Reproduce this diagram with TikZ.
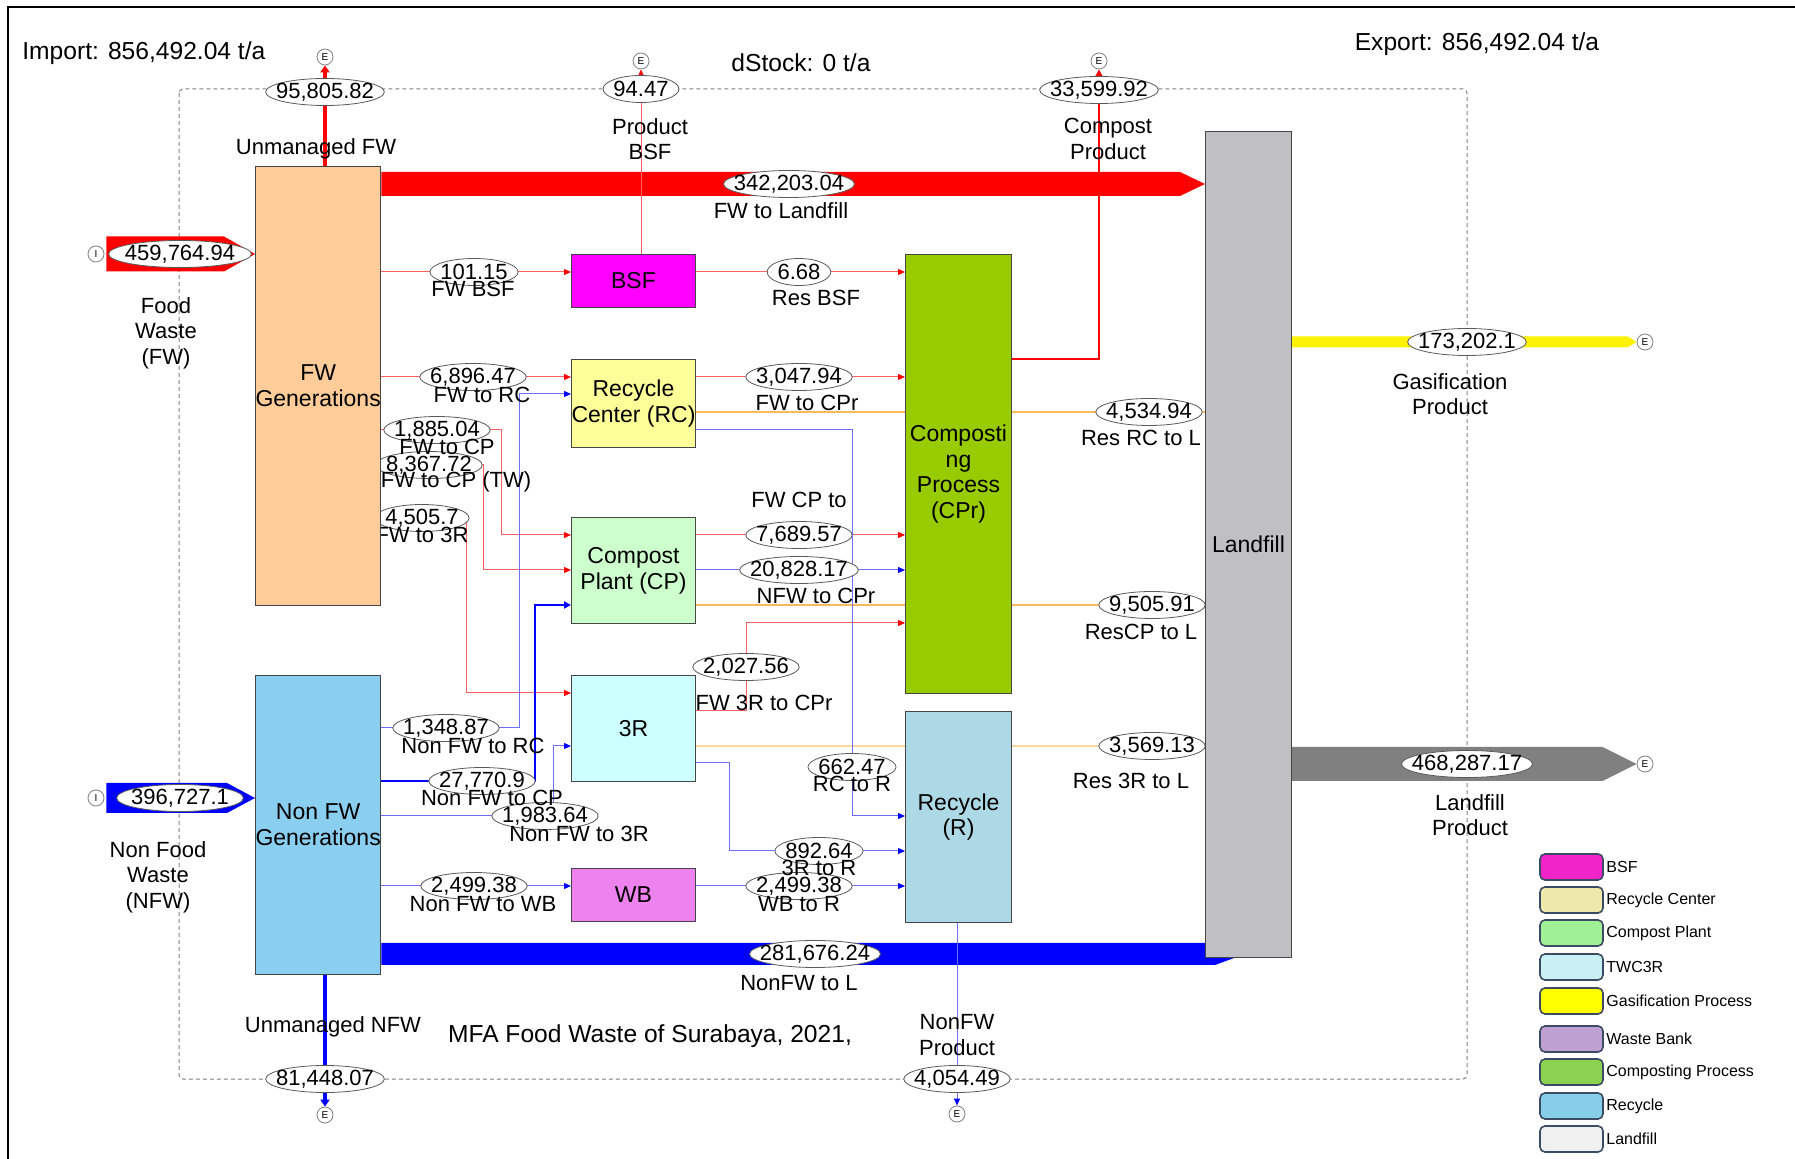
\documentclass[tikz,border=0pt]{standalone}
\usepackage{fontspec}
\setmainfont{Liberation Sans}
\usetikzlibrary{arrows.meta,calc,shapes.geometric}
\pgfdeclarelayer{bg}
\pgfdeclarelayer{flows}
\pgfdeclarelayer{ell}
\pgfdeclarelayer{txt}
\pgfsetlayers{bg,flows,ell,txt,main}

\definecolor{cFW}{RGB}{253,204,153}
\definecolor{cNFW}{RGB}{138,206,240}
\definecolor{cBSF}{RGB}{255,0,255}
\definecolor{cRC}{RGB}{255,255,153}
\definecolor{cCP}{RGB}{204,255,204}
\definecolor{cTR}{RGB}{204,255,255}
\definecolor{cWB}{RGB}{238,130,238}
\definecolor{cCPr}{RGB}{153,204,0}
\definecolor{cR}{RGB}{173,216,230}
\definecolor{cLF}{RGB}{192,192,196}
\definecolor{cLP}{RGB}{128,128,128}
\definecolor{cLR}{RGB}{255,95,95}
\definecolor{cLB}{RGB}{110,110,255}
\definecolor{cOr}{RGB}{250,185,90}
\definecolor{cOr2}{RGB}{250,215,160}
\definecolor{cLegB}{RGB}{60,75,100}
\definecolor{lgBSF}{RGB}{240,36,200}
\definecolor{lgRC}{RGB}{238,232,170}
\definecolor{lgCP}{RGB}{160,240,150}
\definecolor{lgTR}{RGB}{200,240,245}
\definecolor{lgGas}{RGB}{255,255,0}
\definecolor{lgWB}{RGB}{190,160,210}
\definecolor{lgCPr}{RGB}{140,210,80}
\definecolor{lgR}{RGB}{135,206,235}
\definecolor{lgL}{RGB}{240,240,240}

\newcommand\lblfont{\fontsize{11}{12.8}\selectfont}
\newcommand\boxfont{\fontsize{11.5}{12.9}\selectfont}
\newcommand\bigfont{\fontsize{12.3}{14}\selectfont}
\newcommand\legfont{\fontsize{8}{9}\selectfont}
\newcommand\tinyfont{\fontsize{5}{5}\selectfont}

% value node: text on layer txt, white ellipse on layer ell
\newcommand\valm[5]{%
  \begin{pgfonlayer}{txt}\node[vt] (#1) at (#2,#3) {#4};\end{pgfonlayer}%
  \begin{pgfonlayer}{ell}\draw[vell] let \p1=($(#1.east)-(#1.west)$) in (#1.center) ellipse [x radius={0.5*\x1+#5}, y radius=6.75pt];\end{pgfonlayer}}
\newcommand\val[4]{\valm{#1}{#2}{#3}{#4}{5pt}}

\newcommand\pbox[7]{%
  \node[pbx, fill=#6, anchor=north west, minimum width={(#4-#2)*0.5pt}, minimum height={(#5-#3)*0.5pt}] (#1) at (#2,#3) {#7};}

\begin{document}
\begin{tikzpicture}[x=0.5pt,y=-0.5pt,
  pbx/.style={draw=gray!55!black, line width=0.5pt, align=center, font=\boxfont, inner sep=0pt},
  vt/.style={font=\lblfont, inner sep=0pt},
  vell/.style={draw={rgb,255:red,90;green,90;blue,90}, line width=0.4pt, fill=white},
  lbl/.style={font=\lblfont, align=center, inner sep=0pt},
  big/.style={font=\bigfont, inner sep=0pt},
  ec/.style={circle, draw=gray, fill=white, minimum size=8pt, inner sep=0pt, line width=0.4pt, font=\tinyfont},
  tR/.style={draw=cLR, line width=0.5pt, -{Triangle[length=3.5pt,width=3pt,color=red]}},
  tB/.style={draw=cLB, line width=0.5pt, -{Triangle[length=3.5pt,width=3pt,color=blue]}},
  tO/.style={draw=cOr, line width=0.6pt},
  tOO/.style={draw=cOr2, line width=0.7pt},
  mR/.style={draw=red, line width=1pt},
  mB/.style={draw=blue, line width=1pt, -{Triangle[length=3.5pt,width=3.5pt]}},
  kR/.style={draw=red, line width=2pt, -{Triangle[length=3.5pt,width=4.5pt]}},
  kB/.style={draw=blue, line width=2pt, -{Triangle[length=3.5pt,width=4.5pt]}},
  legbox/.style={draw=cLegB, line width=0.8pt, rounded corners=2.5pt, minimum width=31.5pt, minimum height=13pt, inner sep=0pt},
  legt/.style={font=\legfont, anchor=west, inner sep=0pt}]
\useasboundingbox (0,0) rectangle (1795,1159);

% frame and system boundary
\begin{pgfonlayer}{bg}
\draw[line width=1pt] (8,1159) -- (8,7) -- (1795,7);
\draw[gray, line width=0.5pt, dash pattern=on 2pt off 1.5pt, rounded corners=2pt] (179,89) rectangle (1467,1079);
\end{pgfonlayer}

% processes
\pbox{FW}{255}{166}{378}{605}{cFW}{FW\\Generations}
\pbox{NFW}{255}{675}{378}{974}{cNFW}{Non FW\\Generations}
\pbox{BSF}{571}{254}{695}{307}{cBSF}{BSF}
\pbox{RC}{571}{359}{695}{447}{cRC}{Recycle\\Center (RC)}
\pbox{CP}{571}{517}{695}{623}{cCP}{Compost\\Plant (CP)}
\pbox{TR}{571}{675}{695}{781}{cTR}{3R}
\pbox{WB}{571}{868}{695}{921}{cWB}{WB}
\pbox{CPr}{905}{254}{1011}{693}{cCPr}{Composti\\ng\\Process\\(CPr)}
\pbox{R}{905}{711}{1011}{922}{cR}{Recycle\\(R)}
\pbox{LF}{1205}{131}{1291}{957}{cLF}{Landfill}

% import / export markers
\node[ec] (eUFW) at (325,57) {E};
\node[ec] (ePBSF) at (641,61) {E};
\node[ec] (eCP) at (1099,61) {E};
\node[ec] (eGas) at (1645,342) {E};
\node[ec] (eLP) at (1645,764) {E};
\node[ec] (eUNFW) at (325,1115) {E};
\node[ec] (eNFWP) at (957,1114) {E};
\node[ec] (iFW) at (96,254) {I};
\node[ec] (iNFW) at (96,798) {I};

% flow values
\val{vUFW}{325}{92}{95,805.82}
\val{vPBSF}{641}{89}{94.47}
\val{vCPo}{1099}{90}{33,599.92}
\val{vFWL}{789}{184}{342,203.04}
\valm{vImpFW}{180}{254}{459,764.94}{8pt}
\val{vFWBSF}{474}{272}{101.15}
\val{vResBSF}{799}{272}{6.68}
\val{vFWRC}{473}{377}{6,896.47}
\val{vFWCPr}{799}{377}{3,047.94}
\val{vResRC}{1149}{412}{4,534.94}
\val{vFWCP}{437}{430}{1,885.04}
\val{vFWCPTW}{429}{465}{8,367.72}
\val{vFW3R}{422}{518}{4,505.7}
\val{vCPCPr}{799}{535}{7,689.57}
\val{vNFWCPr}{799}{570}{20,828.17}
\val{vResCP}{1152}{605}{9,505.91}
\val{vF3RCPr}{746}{667}{2,027.56}
\val{vNFWRC}{446}{728}{1,348.87}
\val{vResR}{1152}{746}{3,569.13}
\val{vRCR}{852}{767}{662.47}
\val{vNFWCP}{482}{781}{27,770.9}
\valm{vImpNFW}{180}{798}{396,727.1}{7pt}
\val{vNFW3R}{545}{816}{1,983.64}
\val{v3RR}{819}{851}{892.64}
\val{vNFWWB}{474}{886}{2,499.38}
\val{vWBR}{799}{886}{2,499.38}
\val{vNFWL}{815}{954}{281,676.24}
\val{vUNFW}{325}{1079}{81,448.07}
\val{vNFWP}{957}{1079}{4,054.49}
\val{vGas}{1467}{342}{173,202.1}
\val{vLP}{1467}{764}{468,287.17}

% bend points
\coordinate (kCP) at (1099,359);
\coordinate (k1) at (501,535);
\coordinate (k2) at (483,570);
\coordinate (k3) at (466,693);
\coordinate (k4) at (519,394);
\coordinate (k5) at (535,605);
\coordinate (k6) at (553,746);
\coordinate (k7a) at (852,430);
\coordinate (k7b) at (852,816);
\coordinate (k8a) at (746,711);
\coordinate (k8b) at (746,623);
\coordinate (k9a) at (729,763);
\coordinate (k9b) at (729,851);

\begin{pgfonlayer}{flows}
% wide flows
\fill[red] ($(FW.east|-vFWL)+(0,-12)$) -- ($(LF.west|-vFWL)+(-25,-12)$) -- (LF.west|-vFWL) -- ($(LF.west|-vFWL)+(-25,12)$) -- ($(FW.east|-vFWL)+(0,12)$) -- cycle;
\fill[blue] ($(NFW.east|-vNFWL)+(0,-11)$) -- ($(LF.west|-vNFWL)+(10,-11)$) -- ($(LF.west|-vNFWL)+(40,0)$) -- ($(LF.west|-vNFWL)+(10,11)$) -- ($(NFW.east|-vNFWL)+(0,11)$) -- cycle;
\fill[yellow] ($(LF.east|-eGas)+(0,-5.5)$) -- ($(eGas.west)+(-9,-5.5)$) -- (eGas.west) -- ($(eGas.west)+(-9,5.5)$) -- ($(LF.east|-eGas)+(0,5.5)$) -- cycle;
\fill[cLP] ($(LF.east|-eLP)+(0,-17)$) -- ($(eLP.west)+(-34,-17)$) -- (eLP.west) -- ($(eLP.west)+(-34,17)$) -- ($(LF.east|-eLP)+(0,17)$) -- cycle;
\fill[red] ($(iFW.east)+(2,-17.5)$) -- ($(FW.west|-iFW)+(-31,-17.5)$) -- (FW.west|-iFW) -- ($(FW.west|-iFW)+(-31,17.5)$) -- ($(iFW.east)+(2,17.5)$) -- cycle;
\fill[blue] ($(iNFW.east)+(2,-15)$) -- ($(NFW.west|-iNFW)+(-28,-15)$) -- (NFW.west|-iNFW) -- ($(NFW.west|-iNFW)+(-28,15)$) -- ($(iNFW.east)+(2,15)$) -- cycle;
% vertical outflows
\draw[kR] (eUFW|-FW.north) -- (eUFW.south);
\draw[kB] (eUNFW|-NFW.south) -- (eUNFW.north);
\draw[tR] (ePBSF|-BSF.north) -- (ePBSF.south);
\draw[tB] (eNFWP|-R.south) -- (eNFWP.north);
\draw[mR, -{Triangle[length=3.5pt,width=3.5pt]}] (CPr.east|-kCP) -- (kCP) -- (eCP.south);
% straight flows
\draw[tR] (FW.east|-vFWBSF) -- (BSF.west|-vFWBSF);
\draw[tR] (BSF.east|-vResBSF) -- (CPr.west|-vResBSF);
\draw[tR] (FW.east|-vFWRC) -- (RC.west|-vFWRC);
\draw[tR] (RC.east|-vFWCPr) -- (CPr.west|-vFWCPr);
\draw[tO] (RC.east|-vResRC) -- (LF.west|-vResRC);
\draw[tR] (CP.east|-vCPCPr) -- (CPr.west|-vCPCPr);
\draw[tB] (CP.east|-vNFWCPr) -- (CPr.west|-vNFWCPr);
\draw[tO] (CP.east|-vResCP) -- (LF.west|-vResCP);
\draw[tOO] (TR.east|-vResR) -- (LF.west|-vResR);
\draw[tB] (NFW.east|-vNFWWB) -- (WB.west|-vNFWWB);
\draw[tB] (WB.east|-vWBR) -- (R.west|-vWBR);
% bent flows
\draw[tR] (FW.east|-vFWCP) -| (k1) -- (CP.west|-k1);
\draw[tR] (FW.east|-vFWCPTW) -| (k2) -- (CP.west|-k2);
\draw[tR] (FW.east|-vFW3R) -| (k3) -- (TR.west|-k3);
\draw[tB] (NFW.east|-vNFWRC) -| (k4) -- (RC.west|-k4);
\draw[mB] (NFW.east|-vNFWCP) -| (k5) -- (CP.west|-k5);
\draw[tB] (NFW.east|-vNFW3R) -| (k6) -- (TR.west|-k6);
\draw[tB] (RC.east|-k7a) -- (k7a) -- (k7b) -- (R.west|-k7b);
\draw[tR] (TR.east|-k8a) -- (k8a) -- (k8b) -- (CPr.west|-k8b);
\draw[tB] (TR.east|-k9a) -- (k9a) -- (k9b) -- (R.west|-k9b);
\end{pgfonlayer}

\begin{pgfonlayer}{txt}
% flow names
\node[lbl] (lUFW) at (316,149) {Unmanaged FW};
\node[lbl] (lPBSF) at (650,139) {Product\\BSF};
\node[lbl] (lCPo) at (1108,139) {Compost\\Product};
\node[lbl] (lFWL) at (781,211) {FW to Landfill};
\node[lbl] (lFood) at (166,333) {Food\\Waste\\(FW)};
\node[lbl] (lFWBSF) at (473,289) {FW BSF};
\node[lbl] (lResBSF) at (816,298) {Res BSF};
\node[lbl] (lFWRC) at (482,395) {FW to RC};
\node[lbl] (lFWCPr) at (807,403) {FW to CPr};
\node[lbl] (lResRC) at (1141,438) {Res RC to L};
\node[lbl] (lFWCP) at (447,447) {FW to CP};
\node[lbl] (lFWCPTW) at (456,482) {FW to CP (TW)};
\node[lbl] (lFW3R) at (422,535) {FW to 3R};
\node[lbl] (lCPCPr) at (799,500) {FW CP to};
\node[lbl] (lNFWCPr) at (816,596) {NFW to CPr};
\node[lbl] (lResCP) at (1141,632) {ResCP to L};
\node[lbl] (lF3RCPr) at (764,703) {FW 3R to CPr};
\node[lbl] (lNFWRC) at (473,746) {Non FW to RC};
\node[lbl] (lResR) at (1131,781) {Res 3R to L};
\node[lbl] (lRCR) at (852,784) {RC to R};
\node[lbl] (lNFWCP) at (492,798) {Non FW to CP};
\node[lbl] (lNFW3R) at (579,834) {Non FW to 3R};
\node[lbl] (l3RR) at (819,868) {3R to R};
\node[lbl] (lNFWWB) at (483,904) {Non FW to WB};
\node[lbl] (lWBR) at (799,904) {WB to R};
\node[lbl] (lNF) at (158,877) {Non Food\\Waste\\(NFW)};
\node[lbl] (lNFWL) at (799,983) {NonFW to L};
\node[lbl] (lUNFW) at (333,1027) {Unmanaged NFW};
\node[lbl] (lNFWP) at (957,1035) {NonFW\\Product};
\node[lbl] (lGas) at (1450,394) {Gasification\\Product};
\node[lbl] (lLP) at (1470,815) {Landfill\\Product};
% headings
\node[big, anchor=west] (imp) at (22,53) {Import: 856,492.04 t/a};
\node[big] (dst) at (801,63) {dStock: 0 t/a};
\node[big] (exp) at (1477,44) {Export: 856,492.04 t/a};
\node[big] (ttl) at (650,1036) {MFA Food Waste of Surabaya, 2021,};
\end{pgfonlayer}

% legend
\foreach \legy/\legc/\legtxt [count=\i] in {867/lgBSF/BSF, 900/lgRC/Recycle Center, 933/lgCP/Compost Plant, 967/lgTR/TWC3R, 1001/lgGas/Gasification Process, 1039/lgWB/Waste Bank, 1072/lgCPr/Composting Process, 1106/lgR/Recycle, 1139/lgL/Landfill}{
  \node[legbox, fill=\legc] (lg\i) at (1571.5,\legy) {};
  \node[legt] (lgt\i) at (1606,\legy) {\legtxt};
}
\end{tikzpicture}
\end{document}
